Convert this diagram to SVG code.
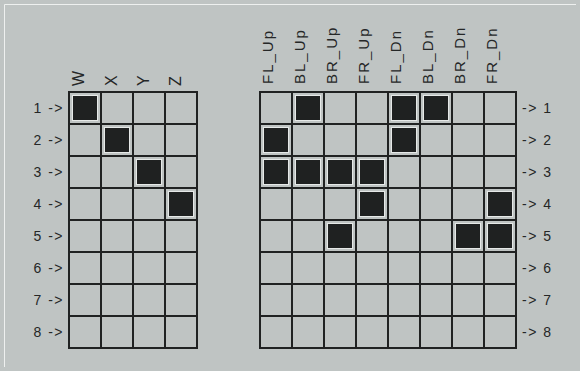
<svg xmlns="http://www.w3.org/2000/svg" width="580" height="371" viewBox="0 0 580 371">
<style>
.bg{fill:#bfc4c3}
.frame{fill:none;stroke:#eef0ef;stroke-width:1}
.grid{fill:none;stroke:#202222;stroke-width:2}
.on{fill:#1f2121;stroke:#e6e9e8;stroke-width:1}
.t{font-family:"Liberation Sans",Arial,sans-serif;font-size:14px;fill:#252727;letter-spacing:1.5px}
.h{font-family:"Liberation Sans",Arial,sans-serif;font-size:15px;fill:#252727;letter-spacing:2px}
.k{font-family:"Liberation Sans",Arial,sans-serif;font-size:16px;fill:#252727}
</style>
<defs>
<path id="g4" d="M69 92H197V348H69ZM101 92V348M133 92V348M165 92V348M69 124H197M69 156H197M69 188H197M69 220H197M69 252H197M69 284H197M69 316H197"/>
<path id="g8" d="M260 92H516V348H260ZM292 92V348M324 92V348M356 92V348M388 92V348M420 92V348M452 92V348M484 92V348M260 124H516M260 156H516M260 188H516M260 220H516M260 252H516M260 284H516M260 316H516"/>
</defs>
<rect class="bg" width="580" height="371"/>
<path class="frame" d="M4.5 367V4.5H576"/>

<g id="left-grid">
<use href="#g4" class="grid"/>
<rect class="on" x="72.5" y="95.5" width="25" height="25"/>
<rect class="on" x="104.5" y="127.5" width="25" height="25"/>
<rect class="on" x="136.5" y="159.5" width="25" height="25"/>
<rect class="on" x="168.5" y="191.5" width="25" height="25"/>
</g>

<g id="left-headers">
<text class="k" transform="translate(84,86) rotate(-90)">W</text>
<text class="k" transform="translate(117,86) rotate(-90)">X</text>
<text class="k" transform="translate(149,86) rotate(-90)">Y</text>
<text class="k" transform="translate(181,86) rotate(-90)">Z</text>
</g>

<g id="left-rows" text-anchor="end">
<text class="t" x="64" y="113">1 -&gt;</text>
<text class="t" x="64" y="145">2 -&gt;</text>
<text class="t" x="64" y="177">3 -&gt;</text>
<text class="t" x="64" y="209">4 -&gt;</text>
<text class="t" x="64" y="241">5 -&gt;</text>
<text class="t" x="64" y="273">6 -&gt;</text>
<text class="t" x="64" y="305">7 -&gt;</text>
<text class="t" x="64" y="337">8 -&gt;</text>
</g>

<g id="right-grid">
<use href="#g8" class="grid"/>
<rect class="on" x="295.5" y="95.5" width="25" height="25"/>
<rect class="on" x="391.5" y="95.5" width="25" height="25"/>
<rect class="on" x="423.5" y="95.5" width="25" height="25"/>
<rect class="on" x="263.5" y="127.5" width="25" height="25"/>
<rect class="on" x="391.5" y="127.5" width="25" height="25"/>
<rect class="on" x="263.5" y="159.5" width="25" height="25"/>
<rect class="on" x="295.5" y="159.5" width="25" height="25"/>
<rect class="on" x="327.5" y="159.5" width="25" height="25"/>
<rect class="on" x="359.5" y="159.5" width="25" height="25"/>
<rect class="on" x="359.5" y="191.5" width="25" height="25"/>
<rect class="on" x="487.5" y="191.5" width="25" height="25"/>
<rect class="on" x="327.5" y="223.5" width="25" height="25"/>
<rect class="on" x="455.5" y="223.5" width="25" height="25"/>
<rect class="on" x="487.5" y="223.5" width="25" height="25"/>
</g>

<g id="right-headers">
<text class="h" transform="translate(273,84) rotate(-90)">FL_Up</text>
<text class="h" transform="translate(305,84) rotate(-90)">BL_Up</text>
<text class="h" transform="translate(337,84) rotate(-90)">BR_Up</text>
<text class="h" transform="translate(369,84) rotate(-90)">FR_Up</text>
<text class="h" transform="translate(401,84) rotate(-90)">FL_Dn</text>
<text class="h" transform="translate(433,84) rotate(-90)">BL_Dn</text>
<text class="h" transform="translate(465,84) rotate(-90)">BR_Dn</text>
<text class="h" transform="translate(497,84) rotate(-90)">FR_Dn</text>
</g>

<g id="right-rows">
<text class="t" x="522" y="113">-&gt; 1</text>
<text class="t" x="522" y="145">-&gt; 2</text>
<text class="t" x="522" y="177">-&gt; 3</text>
<text class="t" x="522" y="209">-&gt; 4</text>
<text class="t" x="522" y="241">-&gt; 5</text>
<text class="t" x="522" y="273">-&gt; 6</text>
<text class="t" x="522" y="305">-&gt; 7</text>
<text class="t" x="522" y="337">-&gt; 8</text>
</g>
</svg>
